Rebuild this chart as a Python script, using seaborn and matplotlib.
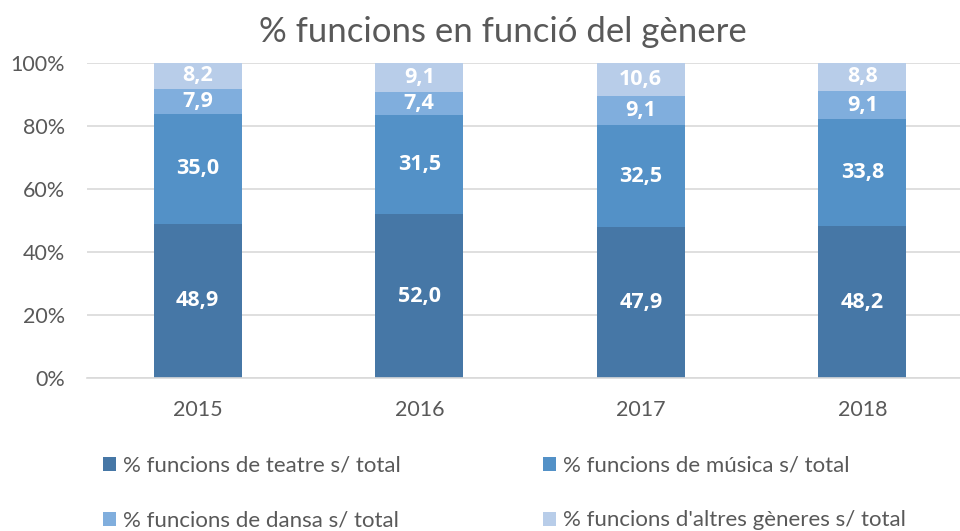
import matplotlib
matplotlib.use("Agg")
import matplotlib.pyplot as plt
import seaborn as sns
import numpy as np
import pandas as pd
from matplotlib.patches import Patch

years = ["2015", "2016", "2017", "2018"]
teatre = [48.9, 52.0, 47.9, 48.2]
musica = [35.0, 31.5, 32.5, 33.8]
dansa = [7.9, 7.4, 9.1, 9.1]
altres = [8.2, 9.1, 10.6, 8.8]
series_names = ["% funcions de teatre s/ total", "% funcions de música s/ total",
                "% funcions de dansa s/ total", "% funcions d'altres gèneres s/ total"]
colors = ["#4677A6", "#5391C7", "#80AEDD", "#B8CDE9"]
yticks = [0, 20, 40, 60, 80, 100]
ytick_labels = ["0%", "20%", "40%", "60%", "80%", "100%"]
title = "% funcions en funció del gènere"

sns.set_theme(style="white")
plt.rcParams['font.family'] = ['Lato', 'DejaVu Sans']
gray = "#595959"

vals = np.array([teatre, musica, dansa, altres], dtype=float)
norm = vals / vals.sum(axis=0) * 100
cum = np.cumsum(norm, axis=0)

fig = plt.figure(figsize=(9.6, 5.31), dpi=100)
ax = fig.add_axes([87/960, 1 - 378/531, 886/960, (378 - 63)/531])

for i in range(3, -1, -1):
    df = pd.DataFrame({"year": years, "v": cum[i]})
    sns.barplot(data=df, x="year", y="v", color=colors[i], width=0.397,
                saturation=1, ax=ax, edgecolor="none", linewidth=0, zorder=2)

for i in range(4):
    for j in range(4):
        mid = cum[i, j] - norm[i, j] / 2
        ax.text(j, mid, f"{vals[i, j]:.1f}".replace(".", ","), ha="center", va="center",
                color="white", fontsize=15.5, fontweight="bold",
                family=["Open Sans", "DejaVu Sans"], zorder=3)

ax.set_xlim(-0.5, 3.5)
ax.set_ylim(0, 100)
ax.set_yticks(yticks)
ax.set_yticklabels(ytick_labels)
ax.set_xlabel("")
ax.set_ylabel("")
ax.yaxis.grid(True, color="#D9D9D9", linewidth=1.2, zorder=0)
ax.set_axisbelow(True)
for s in ["top", "right", "left"]:
    ax.spines[s].set_visible(False)
ax.spines["bottom"].set_color("#D9D9D9")
ax.spines["bottom"].set_linewidth(1.2)
ax.tick_params(axis="both", colors=gray, labelsize=15.5, length=0)
ax.tick_params(axis="y", pad=16)
ax.tick_params(axis="x", pad=16)

fig.text(0.524, 1 - 32/531, title, ha="center", va="center", fontsize=25, color=gray)

handles = [Patch(facecolor=c, edgecolor="none") for c in colors]
order = [0, 2, 1, 3]
leg = fig.legend([handles[k] for k in order], [series_names[k] for k in order], ncol=2,
                 loc="upper left", bbox_to_anchor=(83/960, 1 - 436/531),
                 frameon=False, fontsize=16, handlelength=0.6, handleheight=0.6,
                 handletextpad=0.3, columnspacing=6.4, labelspacing=1.55)
for t in leg.get_texts():
    t.set_color(gray)

fig.savefig("out.png", dpi=100)
